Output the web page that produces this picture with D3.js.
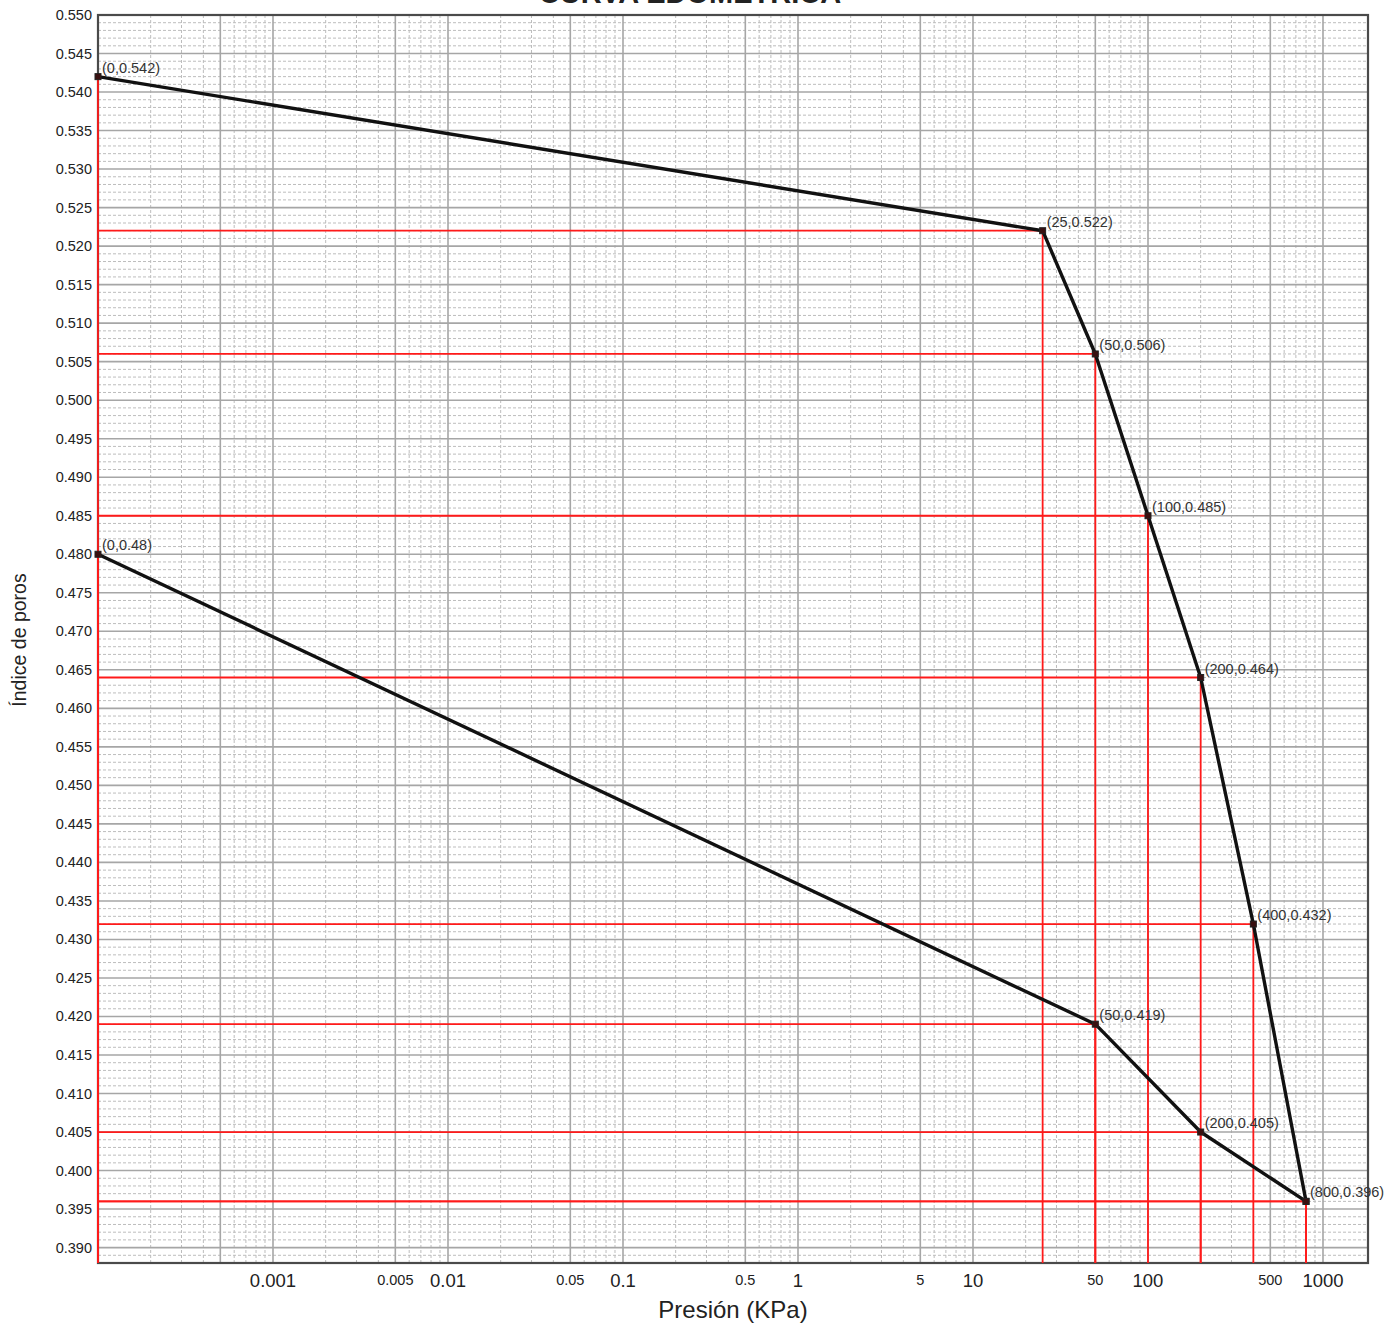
<!DOCTYPE html>
<html>
<head>
<meta charset="utf-8">
<script src="https://cdn.jsdelivr.net/npm/d3@7"></script>
<style>
  html, body { margin: 0; padding: 0; background: #fff; }
  svg { display: block; font-family: "Liberation Sans", Arial, sans-serif; }
</style>
</head>
<body>
<svg id="chart" width="1400" height="1326"></svg>
<script>
// Oedometer test: void ratio vs. applied pressure (log scale).
// A pressure of 0 is plotted at the left edge of the log axis.
const loadPressure   = [0, 25, 50, 100, 200, 400, 800];
const loadVoid       = [0.542, 0.522, 0.506, 0.485, 0.464, 0.432, 0.396];
const unloadPressure = [800, 200, 50, 0];
const unloadVoid     = [0.396, 0.405, 0.419, 0.48];

const xTickValues = [0.001, 0.005, 0.01, 0.05, 0.1, 0.5, 1, 5, 10, 50, 100, 500, 1000];
const xTickLabels = ["0.001", "0.005", "0.01", "0.05", "0.1", "0.5", "1", "5", "10", "50", "100", "500", "1000"];
const yTickValues = d3.range(0.390, 0.5501, 0.005).map(v => +v.toFixed(3));

const X_MIN = 0.0001, X_MAX = 1808;
const Y_MIN = 0.388, Y_MAX = 0.550;

const margin = { left: 98, right: 32, top: 15, bottom: 63 };
const W = 1400, H = 1326;
const svg = d3.select("#chart");

const x = d3.scaleLog().domain([X_MIN, X_MAX]).range([margin.left, W - margin.right]);
const y = d3.scaleLinear().domain([Y_MIN, Y_MAX]).range([H - margin.bottom, margin.top]);
const px = p => x(p === 0 ? X_MIN : p);

const x0 = x.range()[0], x1 = x.range()[1];
const y0 = y.range()[0], y1 = y.range()[1];

// ---------- grid ----------
const grid = svg.append("g");

// vertical: every integer multiple within each decade (1 and 5 solid)
const vMinor = [], vMajor = [];
for (let e = -4; e <= 3; e++) {
  for (let m = 1; m <= 9; m++) {
    const v = m * Math.pow(10, e);
    if (v <= X_MIN * 1.0001 || v > X_MAX) continue;
    (m === 1 || m === 5 ? vMajor : vMinor).push(v);
  }
}
// horizontal: every 0.001, solid every 0.005
const hMinor = [], hMajor = [];
for (let k = Math.round(Y_MIN * 1000) + 1; k < Math.round(Y_MAX * 1000); k++) {
  (k % 5 === 0 ? hMajor : hMinor).push(k / 1000);
}

grid.selectAll(".vmin").data(vMinor).join("line")
  .attr("x1", d => x(d)).attr("x2", d => x(d)).attr("y1", y1).attr("y2", y0)
  .attr("stroke", "#bdbdbd").attr("stroke-width", 1).attr("stroke-dasharray", "3,2");
grid.selectAll(".hmin").data(hMinor).join("line")
  .attr("x1", x0).attr("x2", x1).attr("y1", d => y(d)).attr("y2", d => y(d))
  .attr("stroke", "#bdbdbd").attr("stroke-width", 1).attr("stroke-dasharray", "3,2");
grid.selectAll(".vmaj").data(vMajor).join("line")
  .attr("x1", d => x(d)).attr("x2", d => x(d)).attr("y1", y1).attr("y2", y0)
  .attr("stroke", "#a6a6a6").attr("stroke-width", 1.6);
grid.selectAll(".hmaj").data(hMajor).join("line")
  .attr("x1", x0).attr("x2", x1).attr("y1", d => y(d)).attr("y2", d => y(d))
  .attr("stroke", "#a6a6a6").attr("stroke-width", 1.6);

// ---------- plot frame ----------
svg.append("rect")
  .attr("x", x0).attr("y", y1).attr("width", x1 - x0).attr("height", y0 - y1)
  .attr("fill", "none").attr("stroke", "#4a4a4a").attr("stroke-width", 2.2);

// ---------- red reference lines for each reading ----------
const pts = loadPressure.map((p, i) => ({ p, e: loadVoid[i] }))
  .concat(unloadPressure.map((p, i) => ({ p, e: unloadVoid[i] })));
const refs = svg.append("g");
refs.selectAll(".rv").data(pts).join("line")
  .attr("x1", d => px(d.p)).attr("x2", d => px(d.p))
  .attr("y1", d => y(d.e)).attr("y2", y0)
  .attr("stroke", "#ff1a1a").attr("stroke-width", 1.8);
refs.selectAll(".rh").data(pts).join("line")
  .attr("x1", x0).attr("x2", d => px(d.p))
  .attr("y1", d => y(d.e)).attr("y2", d => y(d.e))
  .attr("stroke", "#ff1a1a").attr("stroke-width", 1.8);

// ---------- curves ----------
const line = d3.line().x(d => px(d.p)).y(d => y(d.e));
const loadPts = loadPressure.map((p, i) => ({ p, e: loadVoid[i] }));
const unloadPts = unloadPressure.map((p, i) => ({ p, e: unloadVoid[i] }));
[loadPts, unloadPts].forEach(ds => {
  svg.append("path").datum(ds).attr("d", line)
    .attr("fill", "none").attr("stroke", "#111").attr("stroke-width", 3.4)
    .attr("stroke-linejoin", "round");
});

// markers and value labels
const fmt = v => String(+v.toFixed(3));
svg.append("g").selectAll("rect").data(pts).join("rect")
  .attr("x", d => px(d.p) - 3).attr("y", d => y(d.e) - 3)
  .attr("width", 6).attr("height", 6)
  .attr("fill", "#3a1010").attr("stroke", "#222").attr("stroke-width", 1);
const uniq = [];
pts.forEach(d => { if (!uniq.some(u => u.p === d.p && u.e === d.e)) uniq.push(d); });
svg.append("g").selectAll("text").data(uniq).join("text")
  .attr("x", d => px(d.p) + 4).attr("y", d => y(d.e) - 4)
  .attr("font-size", 14.5).attr("fill", "#333")
  .text(d => `(${d.p},${fmt(d.e)})`);

// ---------- axes labels ----------
const isDecade = s => !s.includes("5");
svg.append("g").selectAll("text").data(xTickValues).join("text")
  .attr("x", d => x(d)).attr("y", (d, i) => isDecade(xTickLabels[i]) ? 1287 : 1285)
  .attr("text-anchor", "middle")
  .attr("font-size", (d, i) => isDecade(xTickLabels[i]) ? 18.5 : 14.5)
  .attr("fill", "#222")
  .text((d, i) => xTickLabels[i]);

svg.append("g").selectAll("text").data(yTickValues).join("text")
  .attr("x", 92).attr("y", d => y(d) + 5)
  .attr("text-anchor", "end").attr("font-size", 14.5).attr("fill", "#222")
  .text(d => d.toFixed(3));

svg.append("text")
  .attr("x", 733).attr("y", 1318).attr("text-anchor", "middle")
  .attr("font-size", 24).attr("fill", "#222")
  .text("Presión (KPa)");

svg.append("text")
  .attr("transform", "translate(26,640) rotate(-90)")
  .attr("text-anchor", "middle").attr("font-size", 19.5).attr("fill", "#222")
  .text("Índice de poros");

// chart title (sits partly above the page top)
svg.append("text")
  .attr("x", 690).attr("y", 3).attr("text-anchor", "middle")
  .attr("font-size", 29).attr("font-weight", "bold").attr("fill", "#222")
  .text("CURVA EDOMÉTRICA");
</script>
</body>
</html>
